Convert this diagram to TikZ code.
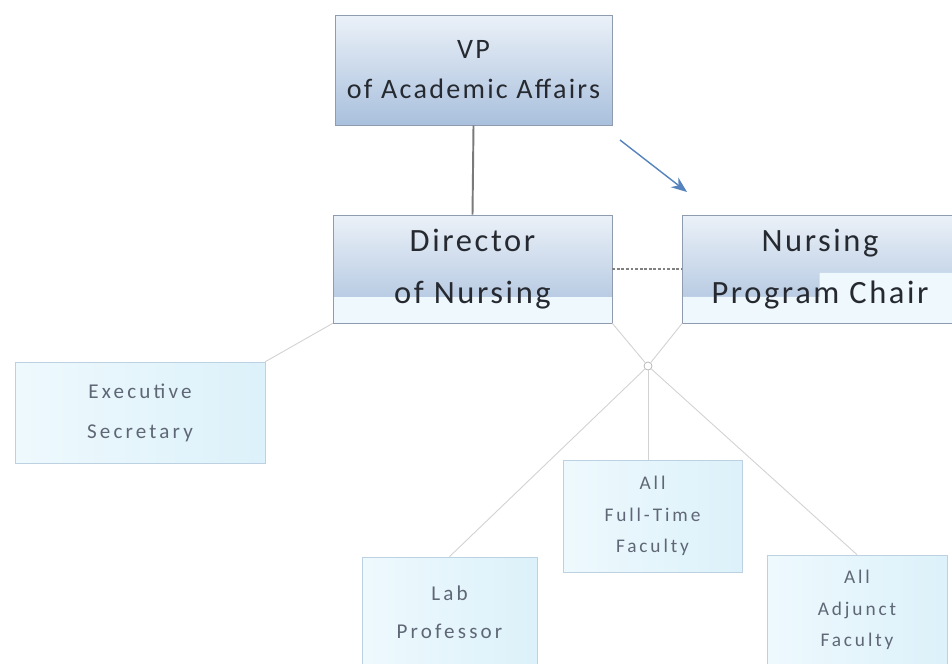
\documentclass[tikz,border=0pt]{standalone}
\usepackage{fontspec}
\setmainfont{Carlito}
\newfontfamily\headfont[LetterSpace=8]{Carlito}
\newfontfamily\stafffont[LetterSpace=15]{Carlito}
\usetikzlibrary{calc,arrows.meta}
\definecolor{headtop}{HTML}{EBF1F8}
\definecolor{headbot}{HTML}{A9C0DD}
\definecolor{headline}{HTML}{8F9BAE}
\definecolor{bandcyan}{HTML}{EEF8FD}
\definecolor{staffleft}{HTML}{EEF9FD}
\definecolor{staffright}{HTML}{DCF1FA}
\definecolor{staffline}{HTML}{BCD2E2}
\definecolor{headtext}{HTML}{262A30}
\definecolor{stafftext}{HTML}{5F6776}
\definecolor{linkgray}{HTML}{D2D2D2}
\definecolor{arrowblue}{HTML}{5683BD}
\tikzset{
	headbox/.style 2 args={draw=headline, top color=headtop, bottom color=headbot, inner sep=0pt, align=center, text=headtext, font=\headfont\fontsize{#1}{#2}\selectfont},
	staffbox/.style 2 args={draw=staffline, left color=staffleft, right color=staffright, inner sep=0pt, align=center, text=stafftext, font=\stafffont\fontsize{#1}{#2}\selectfont},
	thinlink/.style={draw=linkgray, line width=0.5pt},
}

\begin{document}
\begin{tikzpicture}[x=0.02cm, y=-0.02cm]
			%%%%% START %%%%%
			\useasboundingbox[fill=white] (0, 0) rectangle (952, 663);
			
			\node[headbox={16}{22.7}, minimum width=5.54cm, minimum height=2.2cm] (vp) at (473.5, 70) {VP\\of Academic Affairs};
			
			\node[headbox={18.5}{29.5}, minimum width=5.58cm, minimum height=2.16cm,
				path picture={\fill[bandcyan] (path picture bounding box.south west) rectangle ($(path picture bounding box.south east)+(0,-26)$);}]
				(dir) at (472.5, 269) {Director\\of Nursing};
			\node[headbox={18.5}{29.5}, minimum width=5.5cm, minimum height=2.16cm,
				path picture={\fill[bandcyan] (path picture bounding box.south west) -- ++(0,-26) -- ++(137,0) -- ++(0,-24) -- ($(path picture bounding box.south east)+(0,-50)$) -- (path picture bounding box.south east) -- cycle;}]
				(chair) at (820, 269) {Nursing\\Program Chair};
			
			\node[staffbox={12}{22.7}, minimum width=5cm, minimum height=2.02cm] (sec) at (140, 412.5) {Executive\\Secretary};
			\node[staffbox={11}{18}, minimum width=3.58cm, minimum height=2.24cm] (ft) at (652.5, 516) {All\\Full-Time\\Faculty};
			\node[staffbox={12}{21.5}, minimum width=3.5cm, minimum height=2.2cm] (lab) at (449.5, 612) {Lab\\Professor};
			\node[staffbox={11}{17.9}, minimum width=3.6cm, minimum height=2.2cm] (adj) at (857, 610) {All\\Adjunct\\Faculty};
			
			\node[circle, draw=black!30, fill=white, inner sep=0pt, minimum size=0.16cm] (jn) at (648, 366) {};
			
			\draw[line width=1.1pt, color=black!52] (vp.south) -- (dir.north);
			\draw[line width=1.6pt, color=black!50, densely dotted] (dir.east) -- (chair.west);
			
			\coordinate (arrfrom) at (620, 140);
			\coordinate (arrto) at (687, 192);
			\draw[line width=0.8pt, color=arrowblue, -{Stealth[length=9pt, width=7pt]}] (arrfrom) -- (arrto);
			
			\draw[thinlink] (dir.south west) -- (sec.north east);
			\draw[thinlink] (dir.south east) -- (jn);
			\draw[thinlink] (chair.south west) -- (jn);
			\draw[thinlink] (jn) -- (lab.north);
			\draw[thinlink] (jn) -- (jn |- ft.north);
			\draw[thinlink] (jn) -- (adj.north);
			
			%%%%% END %%%%%
\end{tikzpicture}
\end{document}
